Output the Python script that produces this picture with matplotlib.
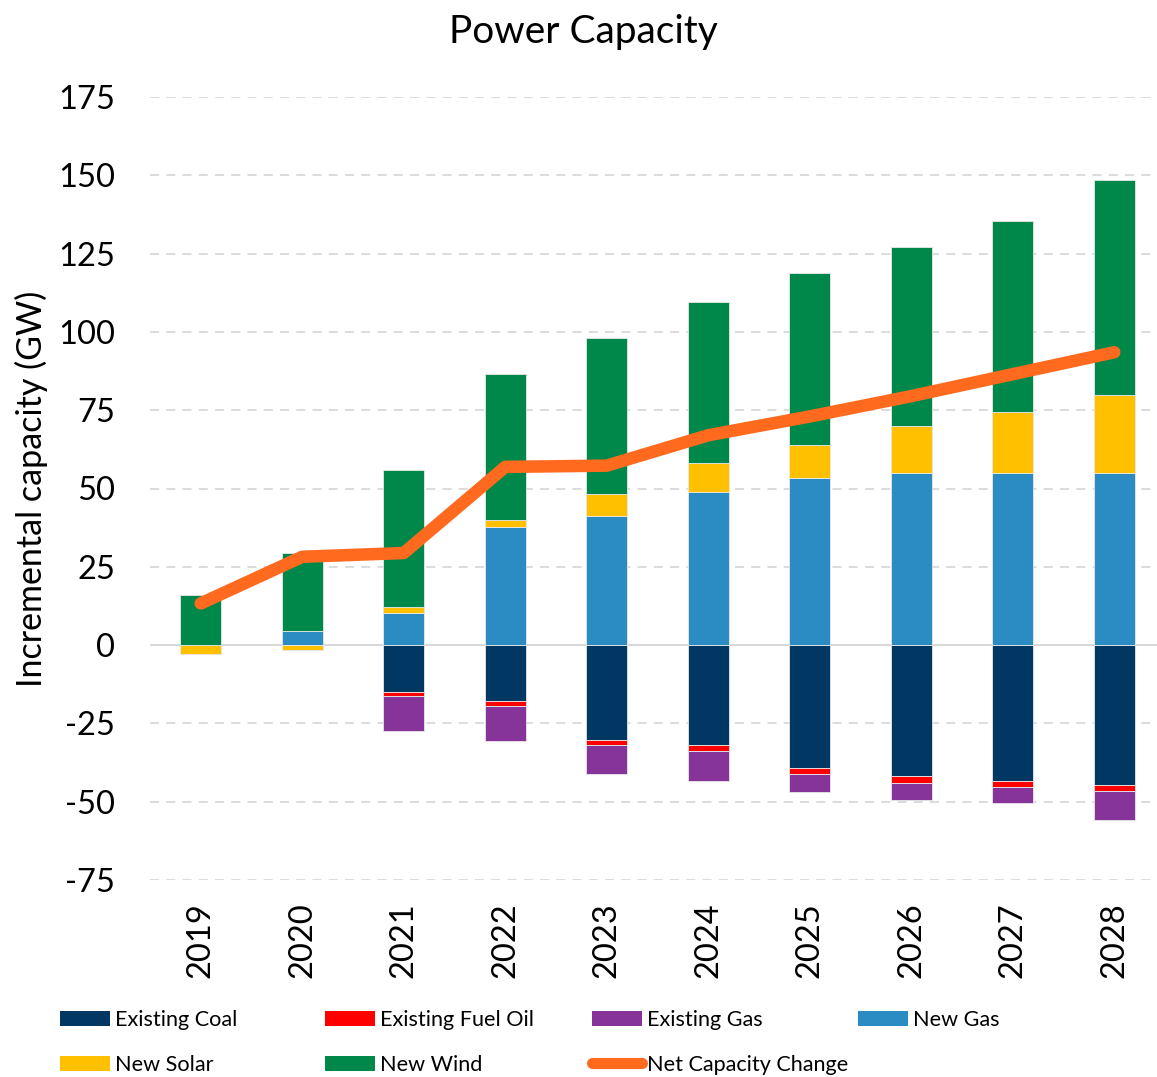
import matplotlib
matplotlib.use("Agg")
import matplotlib.pyplot as plt
import numpy as np
from matplotlib.patches import Patch
from matplotlib.lines import Line2D

years = ["2019", "2020", "2021", "2022", "2023", "2024", "2025", "2026", "2027", "2028"]
existing_coal = [0, 0, -15.0, -17.9, -30.4, -32.0, -39.1, -41.9, -43.4, -44.6]
existing_oil = [0, 0, -1.4, -1.4, -1.6, -1.8, -2.2, -2.1, -1.9, -1.9]
existing_gas = [0, 0, -11.0, -11.2, -9.3, -9.6, -5.6, -5.4, -5.0, -9.4]
new_gas = [0, 4.4, 10.2, 37.7, 41.3, 48.9, 53.3, 55.0, 55.1, 54.8]
new_solar = [-3.0, -1.6, 1.9, 2.4, 7.1, 9.4, 10.7, 15.0, 19.2, 25.1]
new_wind = [15.9, 25.1, 43.8, 46.6, 49.8, 51.2, 54.8, 57.2, 61.2, 68.7]
net_change = [13.3, 28.2, 29.4, 56.9, 57.3, 67.0, 73.0, 79.5, 86.5, 93.5]

series = [
    ("Existing Coal", existing_coal, "#003763"),
    ("Existing Fuel Oil", existing_oil, "#FF0000"),
    ("Existing Gas", existing_gas, "#86339A"),
    ("New Gas", new_gas, "#2A8CC2"),
    ("New Solar", new_solar, "#FFC000"),
    ("New Wind", new_wind, "#00884A"),
]
line_color = "#FF6A1F"

plt.rcParams['font.family'] = ['Lato', 'DejaVu Sans']
plt.rcParams['axes.unicode_minus'] = False

fig = plt.figure(figsize=(11.57, 10.77), dpi=100)
ax = fig.add_axes([150/1157, 1-880/1077, 1015/1157, (880-97)/1077])

x = np.arange(len(years))
pos_base = np.zeros(len(years))
neg_base = np.zeros(len(years))
for name, vals, col in series:
    v = np.array(vals, dtype=float)
    bottoms = np.where(v >= 0, pos_base, neg_base)
    ax.bar(x, v, 0.4, bottom=bottoms, color=col, edgecolor="#E8E8E8", linewidth=0.6, zorder=3)
    pos_base = pos_base + np.where(v >= 0, v, 0)
    neg_base = neg_base + np.where(v < 0, v, 0)

ax.plot(x, net_change, color=line_color, linewidth=9, solid_capstyle="round",
        solid_joinstyle="round", zorder=4)

ax.set_xlim(-0.5, len(years) - 0.5)
ax.set_ylim(-75, 175)
ax.set_yticks(np.arange(-75, 176, 25))
ax.set_xticks(x)
ax.set_xticklabels(years, rotation=90)
ax.tick_params(axis="both", length=0, labelsize=23.5)
ax.tick_params(axis="y", pad=25)
ax.tick_params(axis="x", pad=16)
for s in ax.spines.values():
    s.set_visible(False)
ax.yaxis.grid(True, linestyle=(0, (5, 4)), color="#D9D9D9", linewidth=1.3, zorder=0)
ax.axhline(0, color="#D9D9D9", linewidth=1.5, zorder=2)
ax.set_axisbelow(True)

ax.set_ylabel("Incremental capacity (GW)", fontsize=24.5)
ax.yaxis.set_label_coords(-102/1015, 0.5)
fig.text(583/1157, 1-32/1077, "Power Capacity", ha="center", va="center", fontsize=28)

h = {name: Patch(facecolor=col, edgecolor="none") for name, _, col in series}
net_handle = Line2D([0], [0], color=line_color, linewidth=8, solid_capstyle="round")
columns = [
    ([h["Existing Coal"], h["New Solar"]], ["Existing Coal", "New Solar"], 60),
    ([h["Existing Fuel Oil"], h["New Wind"]], ["Existing Fuel Oil", "New Wind"], 325),
    ([h["Existing Gas"], net_handle], ["Existing Gas", "Net Capacity Change"], 592),
    ([h["New Gas"]], ["New Gas"], 858),
]
for hs, ls, xpx in columns:
    leg = fig.legend(hs, ls, loc="upper left", bbox_to_anchor=(xpx/1157, 1-1010/1077),
                     frameon=False, fontsize=15.6, handlelength=2.3, handleheight=0.7,
                     handletextpad=0.25, labelspacing=1.15, borderaxespad=0, borderpad=0)

fig.savefig("out.png", dpi=100)
